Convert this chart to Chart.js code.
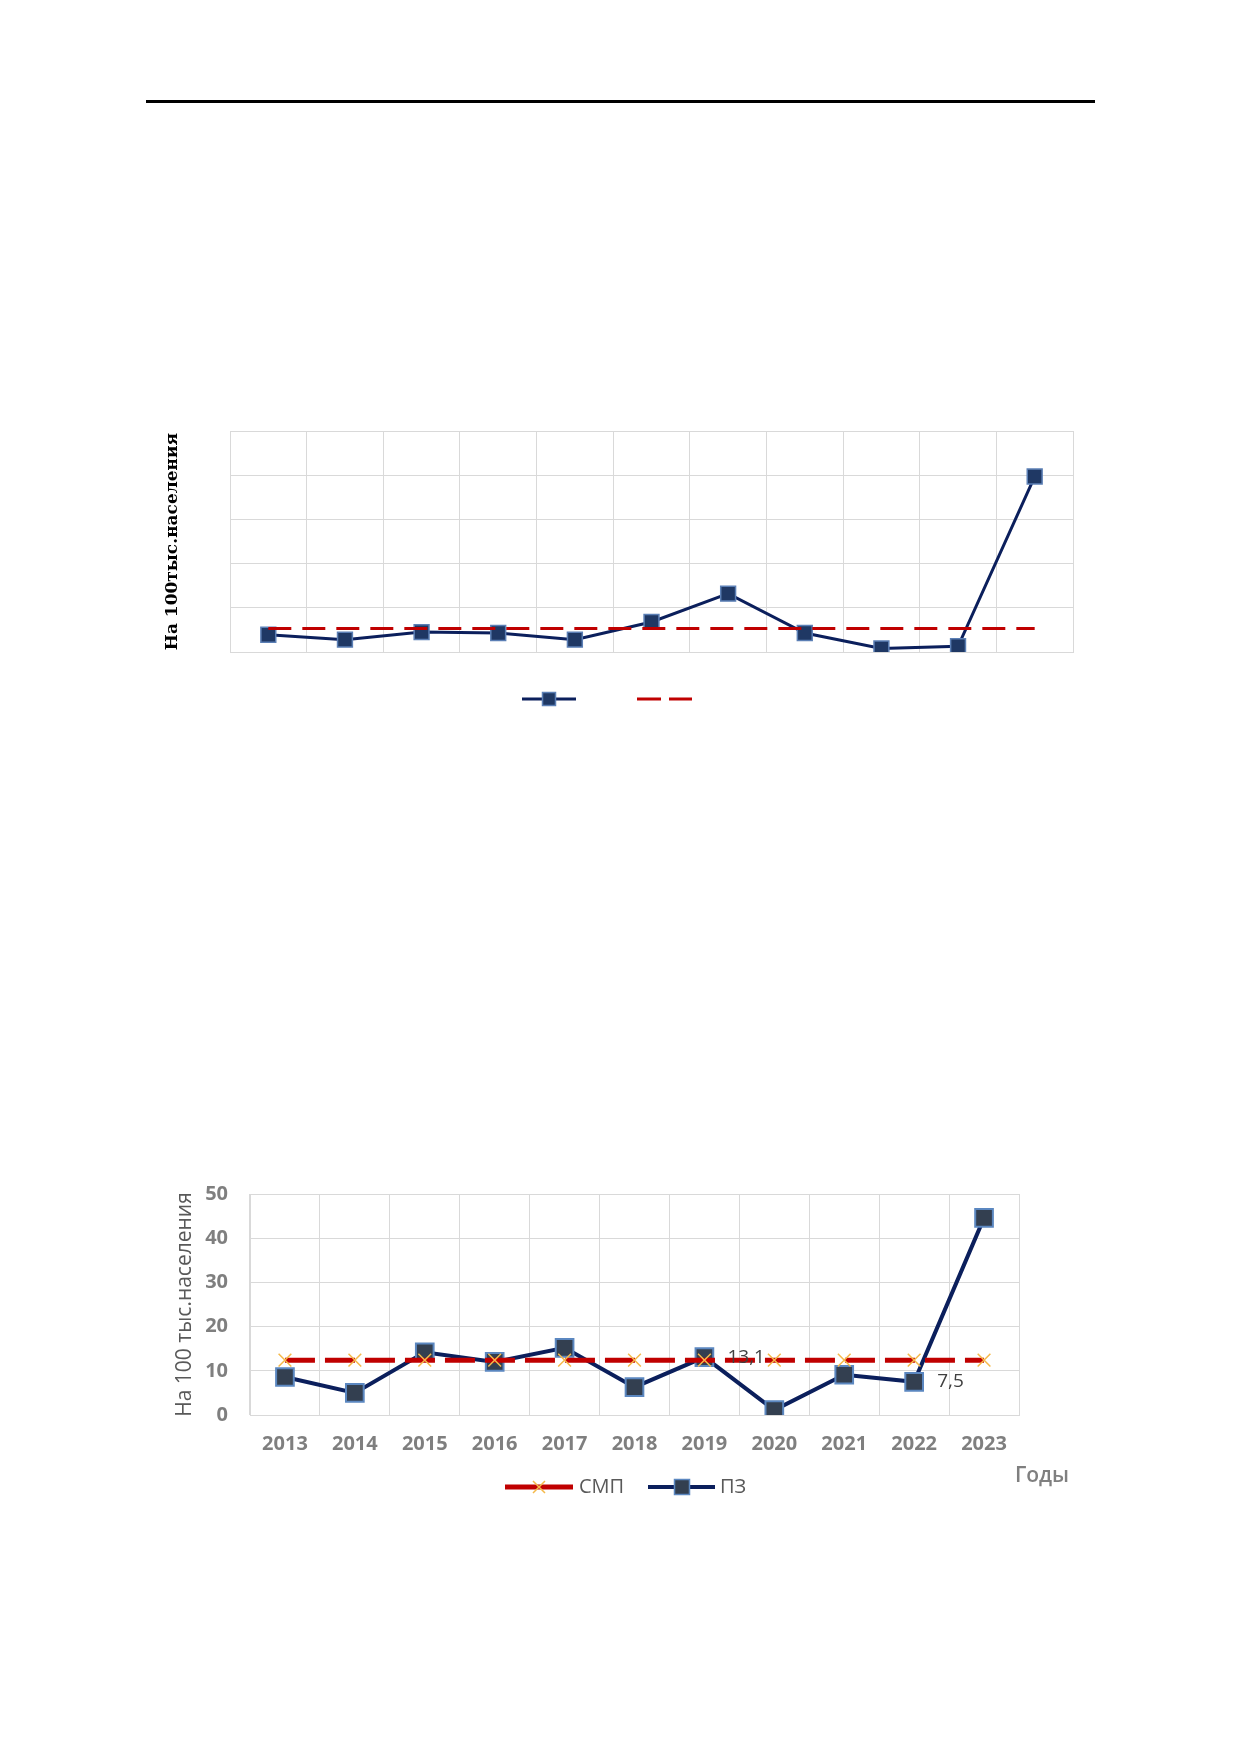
<!DOCTYPE html>
<html>
<head>
<meta charset="utf-8">
<script src="https://cdn.jsdelivr.net/npm/chart.js@4.4.1/dist/chart.umd.min.js"></script>
<style>
  html, body { margin: 0; padding: 0; background: #fff; }
  body { width: 1240px; height: 1754px; position: relative; }
  .rule { position: absolute; left: 146px; top: 100px; width: 949px; height: 3px; background: #000; }
  .box { position: absolute; }
  #box1 { left: 140px; top: 400px; width: 960px; height: 330px; }
  #box2 { left: 140px; top: 1160px; width: 960px; height: 350px; }
</style>
</head>
<body>
<div class="rule"></div>
<div class="box" id="box1"><canvas id="chart1"></canvas></div>
<div class="box" id="box2"><canvas id="chart2"></canvas></div>
<script>
// данные
const years = ['2013', '2014', '2015', '2016', '2017', '2018', '2019', '2020', '2021', '2022', '2023'];
const yTicks = [0, 10, 20, 30, 40, 50];

// верхний график
const pz1 = [3.9, 2.8, 4.5, 4.3, 2.8, 6.8, 13.2, 4.3, 0.8, 1.3, 39.7];
const avg1 = [5.3, 5.3, 5.3, 5.3, 5.3, 5.3, 5.3, 5.3, 5.3, 5.3, 5.3];

// нижний график
const pz2 = [8.6, 5.0, 14.2, 12.0, 15.2, 6.3, 13.1, 1.1, 9.1, 7.5, 44.6];
const smp2 = [12.4, 12.4, 12.4, 12.4, 12.4, 12.4, 12.4, 12.4, 12.4, 12.4, 12.4];
const pz2Labels = [null, null, null, null, null, null, '13,1', null, null, '7,5', null];

const NAVY = '#0b1f5c';
const RED = '#c00000';
const GRID = '#d9d9d9';

// легенда в стиле Excel, подписи значений и подпись оси X
const decor = {
  id: 'decor',
  afterDatasetsDraw(chart, args, opts) {
    const ctx = chart.ctx;
    ctx.save();
    (opts.legend || []).forEach(item => {
      ctx.strokeStyle = item.color;
      ctx.lineWidth = item.lineWidth;
      ctx.setLineDash(item.dash || []);
      ctx.beginPath();
      ctx.moveTo(item.x1, item.y);
      ctx.lineTo(item.x2, item.y);
      ctx.stroke();
      ctx.setLineDash([]);
      if (item.marker === 'rect') {
        const s = item.size;
        ctx.fillStyle = item.fill;
        ctx.fillRect(item.mx - s / 2, item.y - s / 2, s, s);
        ctx.strokeStyle = item.border;
        ctx.lineWidth = 1.5;
        ctx.strokeRect(item.mx - s / 2, item.y - s / 2, s, s);
      } else if (item.marker === 'x') {
        const s = item.size / 2;
        ctx.strokeStyle = item.border;
        ctx.lineWidth = 1.5;
        ctx.beginPath();
        ctx.moveTo(item.mx - s, item.y - s); ctx.lineTo(item.mx + s, item.y + s);
        ctx.moveTo(item.mx + s, item.y - s); ctx.lineTo(item.mx - s, item.y + s);
        ctx.stroke();
      }
      if (item.text) {
        ctx.fillStyle = '#595959';
        ctx.font = '20px "Open Sans"';
        ctx.textAlign = 'left';
        ctx.textBaseline = 'middle';
        ctx.fillText(item.text, item.tx, item.y);
      }
    });
    if (opts.labels) {
      const meta = chart.getDatasetMeta(opts.labels.dataset);
      ctx.fillStyle = '#404040';
      ctx.font = '19px "Open Sans"';
      ctx.textAlign = 'left';
      ctx.textBaseline = 'middle';
      opts.labels.values.forEach((t, i) => {
        if (!t) return;
        const pt = meta.data[i];
        ctx.fillText(t, pt.x + 23, pt.y);
      });
    }
    if (opts.xTitle) {
      ctx.fillStyle = '#7f7f7f';
      ctx.font = '600 21px "Open Sans"';
      ctx.textAlign = 'center';
      ctx.textBaseline = 'middle';
      ctx.fillText(opts.xTitle.text, opts.xTitle.x, opts.xTitle.y);
    }
    ctx.restore();
  }
};

new Chart(document.getElementById('chart1'), {
  type: 'line',
  data: {
    labels: years,
    datasets: [{
      label: 'ПЗ',
      data: pz1,
      borderColor: NAVY,
      borderWidth: 3,
      pointStyle: 'rect',
      pointRadius: 10.5,
      pointBackgroundColor: '#1f3864',
      pointBorderColor: '#5b7fb5',
      pointBorderWidth: 1.5,
      tension: 0,
      order: 2
    }, {
      label: 'СМП',
      data: avg1,
      borderColor: RED,
      borderWidth: 3,
      borderDash: [23, 11],
      pointRadius: 0,
      tension: 0,
      order: 1
    }]
  },
  options: {
    responsive: true,
    maintainAspectRatio: false,
    animation: false,
    layout: { padding: { top: 31, right: 27, bottom: 0, left: 0 } },
    plugins: {
      legend: { display: false },
      tooltip: { enabled: false },
      decor: {
        legend: [
          { x1: 382, x2: 436, y: 299, color: NAVY, lineWidth: 3, marker: 'rect', mx: 409, size: 13, fill: '#1f3864', border: '#5b7fb5' },
          { x1: 497, x2: 552, y: 299, color: RED, lineWidth: 3, dash: [24, 8] }
        ]
      }
    },
    scales: {
      x: {
        offset: true,
        grid: { offset: true, color: GRID, drawTicks: false },
        border: { color: GRID },
        ticks: { display: false },
        afterFit: s => { s.height = 78; }
      },
      y: {
        min: 0, max: 50,
        afterBuildTicks: s => { s.ticks = yTicks.map(v => ({ value: v })); },
        grid: { color: GRID, drawTicks: false },
        border: { color: GRID },
        ticks: { display: false },
        title: {
          display: true,
          text: 'На 100тыс.населения',
          color: '#000',
          font: { family: '"DejaVu Serif"', size: 17, weight: 'bold' },
          padding: { top: 22, bottom: 0 }
        },
        afterFit: s => { s.width = 90; }
      }
    }
  },
  plugins: [decor]
});

new Chart(document.getElementById('chart2'), {
  type: 'line',
  data: {
    labels: years,
    datasets: [{
      label: 'СМП',
      data: smp2,
      borderColor: RED,
      borderWidth: 5,
      borderDash: [30, 10],
      pointStyle: 'crossRot',
      pointRadius: 9,
      pointBorderColor: '#f5b94a',
      pointBorderWidth: 1.5,
      tension: 0
    }, {
      label: 'ПЗ',
      data: pz2,
      borderColor: NAVY,
      borderWidth: 4,
      pointStyle: 'rect',
      pointRadius: 12.5,
      pointBackgroundColor: '#333f50',
      pointBorderColor: '#5b87c0',
      pointBorderWidth: 2,
      tension: 0
    }]
  },
  options: {
    responsive: true,
    maintainAspectRatio: false,
    animation: false,
    layout: { padding: { top: 27, right: 81, bottom: 0, left: 0 } },
    plugins: {
      legend: { display: false },
      tooltip: { enabled: false },
      decor: {
        legend: [
          { x1: 365, x2: 433, y: 327, color: RED, lineWidth: 5, marker: 'x', mx: 399, size: 12, border: '#f5b94a', text: 'СМП', tx: 439 },
          { x1: 508, x2: 575, y: 327, color: NAVY, lineWidth: 4, marker: 'rect', mx: 542, size: 15, fill: '#333f50', border: '#5b87c0', text: 'ПЗ', tx: 580 }
        ],
        labels: { dataset: 1, values: pz2Labels },
        xTitle: { text: 'Годы', x: 902, y: 316 }
      }
    },
    scales: {
      x: {
        offset: true,
        grid: { offset: true, color: GRID, drawTicks: false },
        border: { color: GRID },
        ticks: { color: '#7f7f7f', padding: 17, font: { family: '"Open Sans"', size: 20, weight: 'bold' } },
        afterFit: s => { s.height = 95; }
      },
      y: {
        min: 0, max: 50,
        afterBuildTicks: s => { s.ticks = yTicks.map(v => ({ value: v })); },
        grid: { color: GRID, drawTicks: false },
        border: { color: GRID },
        ticks: { color: '#7f7f7f', padding: 22, font: { family: '"Open Sans"', size: 20, weight: 'bold' } },
        title: {
          display: true,
          text: 'На 100 тыс.населения',
          color: '#595959',
          font: { family: '"Open Sans"', size: 21 },
          padding: { top: 32, bottom: 0 }
        },
        afterFit: s => { s.width = 110; }
      }
    }
  },
  plugins: [decor]
});
</script>
</body>
</html>
